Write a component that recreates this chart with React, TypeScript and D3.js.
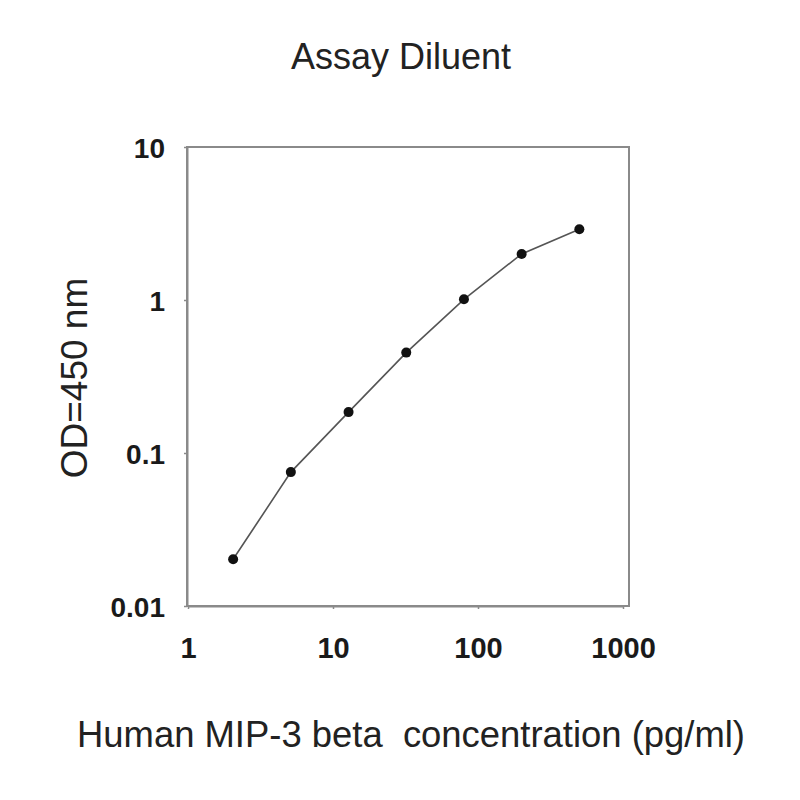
import React, { useEffect, useRef } from "react";
import * as d3 from "d3";

// Standard curve, Human MIP-3 beta (serial 2.5x dilution)
const concentrations = [2.048, 5.12, 12.8, 32, 80, 200, 500];
const odValues = [0.0202, 0.075, 0.185, 0.453, 1.01, 2.0, 2.9];

const xTicks = [1, 10, 100, 1000];
const yTicks = [0.01, 0.1, 1, 10];

const title = "Assay Diluent";
const xLabel = "Human MIP-3 beta\u00a0 concentration (pg/ml)";
const yLabel = "OD=450 nm";

export default function App() {
  const svgRef = useRef<SVGSVGElement>(null);

  useEffect(() => {
    if (!svgRef.current) return;
    const W = 800;
    const H = 800;
    const font = "'Liberation Sans', Arial, sans-serif";

    const svg = d3.select(svgRef.current);
    svg.selectAll("*").remove();
    svg.attr("width", W).attr("height", H);

    svg.append("rect").attr("width", W).attr("height", H).attr("fill", "#ffffff");

    const x = d3.scaleLog().domain([1, 1000]).range([188, 623]);
    const y = d3.scaleLog().domain([0.01, 10]).range([606, 147]);

    // Plot frame
    svg.append("rect")
      .attr("x", 187).attr("y", 147)
      .attr("width", 629 - 187).attr("height", 606 - 147)
      .attr("fill", "none").attr("stroke", "#8a8a8a").attr("stroke-width", 2);

    // Axes
    const gx = svg.append("g").attr("transform", `translate(0,${y(0.01)})`)
      .call(d3.axisBottom(x).tickValues(xTicks).tickSize(3).tickSizeOuter(0).tickFormat(d => String(d)));
    gx.select(".domain").attr("stroke", "#8a8a8a").attr("stroke-width", 2);
    gx.selectAll("line").attr("stroke", "#8a8a8a").attr("stroke-width", 1.5);
    gx.selectAll("text")
      .attr("y", 0).attr("dy", 0)
      .attr("transform", "translate(0,52)")
      .attr("fill", "#1a1a1a").style("font-family", font)
      .style("font-size", "29px").style("font-weight", "bold");

    const gy = svg.append("g").attr("transform", `translate(${x(1) - 1},0)`)
      .call(d3.axisLeft(y).tickValues(yTicks).tickSize(3).tickSizeOuter(0).tickFormat(d => String(d)));
    gy.select(".domain").attr("stroke", "#8a8a8a").attr("stroke-width", 2);
    gy.selectAll("line").attr("stroke", "#8a8a8a").attr("stroke-width", 1.5);
    gy.selectAll("text")
      .attr("x", -22).attr("dy", "0.36em")
      .attr("fill", "#1a1a1a").style("font-family", font)
      .style("font-size", "28px").style("font-weight", "bold");

    // Curve
    const pts = concentrations.map((c, i) => ({ c, od: odValues[i] }));
    const line = d3.line<{ c: number; od: number }>().x(d => x(d.c)).y(d => y(d.od));
    svg.append("path").datum(pts)
      .attr("fill", "none").attr("stroke", "#555555").attr("stroke-width", 1.6)
      .attr("d", line);

    svg.selectAll("circle.pt").data(pts).enter().append("circle")
      .attr("class", "pt")
      .attr("cx", d => x(d.c)).attr("cy", d => y(d.od)).attr("r", 5)
      .attr("fill", "#111111");

    // Labels
    svg.append("text")
      .attr("x", 401).attr("y", 69)
      .attr("text-anchor", "middle")
      .style("font-family", font).style("font-size", "36px")
      .attr("fill", "#222222").text(title);

    svg.append("text")
      .attr("x", 77).attr("y", 747)
      .style("font-family", font).style("font-size", "36px")
      .attr("textLength", 668).attr("lengthAdjust", "spacingAndGlyphs")
      .attr("fill", "#222222").text(xLabel);

    svg.append("text")
      .attr("transform", `translate(87,378) rotate(-90)`)
      .attr("text-anchor", "middle")
      .style("font-family", font).style("font-size", "37px")
      .attr("fill", "#222222").text(yLabel);
  }, []);

  return (
    <div style={{ position: "absolute", left: 0, top: 0, width: 800, height: 800 }}>
      <svg ref={svgRef} style={{ display: "block" }}></svg>
    </div>
  );
}
